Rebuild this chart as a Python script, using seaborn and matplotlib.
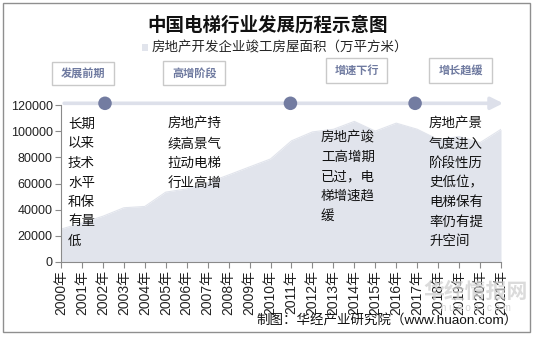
import matplotlib
matplotlib.use("Agg")
import matplotlib.pyplot as plt
from matplotlib.patches import Rectangle
import seaborn as sns
import pandas as pd

# ---- data ----
years = list(range(2000, 2022))
year_labels = [f"{y}年" for y in years]
completed_area = [25105, 29867, 34976, 41464, 42465, 53417, 55831, 60607, 66545,
                  72677, 78744, 92620, 99425, 101435, 107459, 100039, 106128,
                  101486, 93550, 95942, 91218, 101412]
series_name = "房地产开发企业竣工房屋面积（万平方米）"
yticks = [0, 20000, 40000, 60000, 80000, 100000, 120000]
stage_names = ["发展前期", "高增阶段", "增速下行", "增长趋缓"]
stage_points = [2002.1, 2010.95, 2016.9]
notes = ["长期\n以来\n技术\n水平\n和保\n有量\n低",
         "房地产持\n续高景气\n拉动电梯\n行业高增",
         "房地产竣\n工高增期\n已过，电\n梯增速趋\n缓",
         "房地产景\n气度进入\n阶段性历\n史低位，\n电梯保有\n率仍有提\n升空间"]
title = "中国电梯行业发展历程示意图"
source = "制图：华经产业研究院（www.huaon.com）"

df = pd.DataFrame({"year": years, "area": completed_area})

sns.set_theme(style="white")
CJK = ["Noto Sans CJK SC", "DejaVu Sans"]
LAT = ["Liberation Sans", "Noto Sans CJK SC"]
plt.rcParams["font.family"] = CJK

W, H = 534, 337
fig = plt.figure(figsize=(W / 100, H / 100), dpi=100)

def fx(px):
    return px / W

def fy(py):
    return 1 - py / H

ax_left, ax_right, ax_bottom, ax_top = 61, 501, 262, 105
ax = fig.add_axes([fx(ax_left), fy(ax_bottom), fx(ax_right - ax_left), (ax_bottom - ax_top) / H])

area_color = "#E1E4EC"
sns.lineplot(data=df, x="year", y="area", ax=ax, color=area_color, linewidth=0.8, legend=False)
ax.fill_between(df["year"], df["area"], color=area_color, linewidth=0, label=series_name)

ax.set_xlim(2000, 2021)
ax.set_ylim(0, 120000)
ax.set_xticks(years)
ax.set_xticklabels(year_labels, rotation=90, fontsize=10, family=LAT, color="#222222")
ax.set_yticks(yticks)
ax.set_yticklabels([str(v) for v in yticks], fontsize=9, family=LAT, color="#222222")
ax.set_xlabel("")
ax.set_ylabel("")
for s in ["top", "right"]:
    ax.spines[s].set_visible(False)
for s in ["left", "bottom"]:
    ax.spines[s].set_color("#8a8a8a")
    ax.spines[s].set_linewidth(0.8)
ax.tick_params(axis="both", which="both", direction="out", length=4, width=0.8,
               color="#8a8a8a", pad=2, bottom=True, left=True)

# timeline arrow
y_line = 121300
ax.annotate("", xy=(2021.1, y_line), xytext=(2000.15, y_line), xycoords="data",
            annotation_clip=False,
            arrowprops=dict(arrowstyle="-|>,head_length=0.6,head_width=0.3",
                            color="#DDE0EA", lw=2.6, shrinkA=0, shrinkB=0))
sns.scatterplot(x=stage_points, y=[y_line] * len(stage_points), ax=ax, s=95,
                color="#737CA1", edgecolor="none", zorder=5, clip_on=False, legend=False)

# legend
ax.legend(loc="center", bbox_to_anchor=(fx(275), fy(48)), bbox_transform=fig.transFigure,
          frameon=False, fontsize=9.7, handlelength=0.45, handleheight=0.45,
          handletextpad=0.2, borderpad=0, prop={"family": CJK, "size": 9.7})

# title
fig.text(fx(267.5), fy(25), title, ha="center", va="center", fontsize=13.3,
         fontweight="bold", color="#111111")

# stage boxes
boxes = [(51.7, 61.7, 114, 85), (163.3, 60.7, 225, 85),
         (326, 58.3, 387.3, 82.7), (429.3, 58.3, 491.7, 82.7)]
for (x0, y0, x1, y1), name in zip(boxes, stage_names):
    fig.add_artist(Rectangle((fx(x0), fy(y1)), fx(x1 - x0), (y1 - y0) / H,
                             transform=fig.transFigure, fill=False,
                             edgecolor="#C9C9C9", linewidth=1))
    fig.text(fx((x0 + x1) / 2), fy((y0 + y1) / 2), name, ha="center", va="center",
             fontsize=8, fontweight="bold", color="#6F7AA0")

# notes
note_pos = [(68, 117), (167.5, 117), (321, 130.5), (429, 117)]
for (px, py), t in zip(note_pos, notes):
    fig.text(fx(px), fy(py), t, ha="left", va="top", fontsize=9.7,
             linespacing=1.5, color="#111111")

# watermark
fig.text(fx(476), fy(291), "华经情报网", ha="center", va="center", fontsize=15,
         fontweight="bold", color="#CFCFCF", alpha=0.75)
fig.text(fx(476), fy(308), "h u a o n . c o m", ha="center", va="center", fontsize=7,
         color="#D6D6D6", family=LAT)

# source
fig.text(fx(518), fy(321), source, ha="right", va="center", fontsize=9.7,
         family=LAT, color="#111111")

# outer border
fig.add_artist(Rectangle((fx(3), fy(332)), fx(527), (332 - 3) / H,
                         transform=fig.transFigure, fill=False,
                         edgecolor="#8f8f8f", linewidth=1))

fig.savefig("out.png", dpi=100)
